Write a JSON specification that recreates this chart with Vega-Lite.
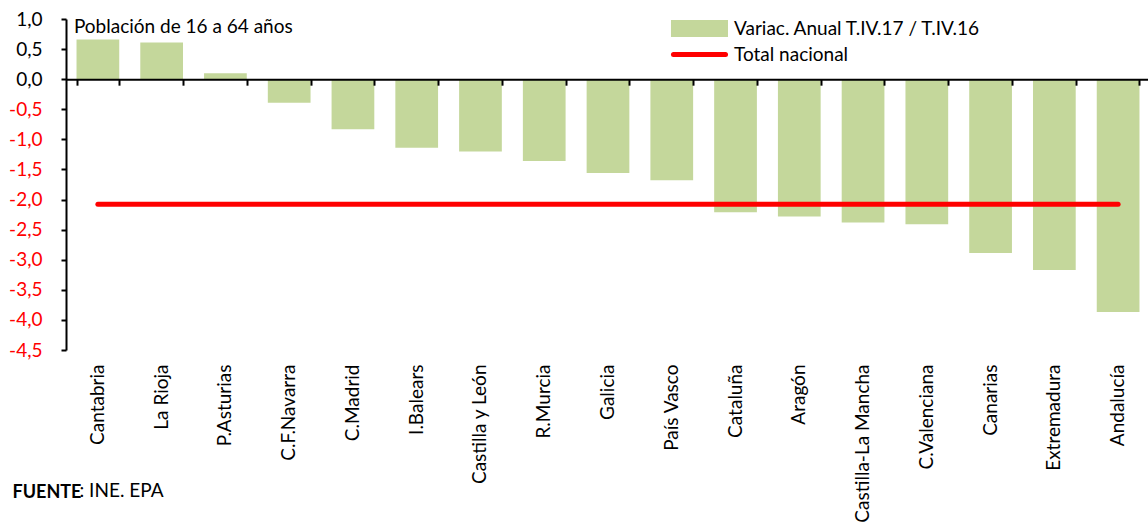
{
  "$schema": "https://vega.github.io/schema/vega-lite/v6.json",
  "width": 1084,
  "height": 331,
  "autosize": {"type": "none"},
  "padding": {"left": 66, "top": 19, "right": 0, "bottom": 177},
  "config": {
    "view": {"stroke": null},
    "font": "Lato",
    "locale": {"number": {"decimal": ",", "thousands": ".", "grouping": [3], "currency": ["", " €"], "minus": "-"}}
  },
  "data": {"values": [
    {"region": "Cantabria", "value": 0.66, "total": -2.08},
    {"region": "La Rioja", "value": 0.61, "total": -2.08},
    {"region": "P.Asturias", "value": 0.10, "total": -2.08},
    {"region": "C.F.Navarra", "value": -0.39, "total": -2.08},
    {"region": "C.Madrid", "value": -0.83, "total": -2.08},
    {"region": "I.Balears", "value": -1.14, "total": -2.08},
    {"region": "Castilla y León", "value": -1.20, "total": -2.08},
    {"region": "R.Murcia", "value": -1.36, "total": -2.08},
    {"region": "Galicia", "value": -1.56, "total": -2.08},
    {"region": "País Vasco", "value": -1.68, "total": -2.08},
    {"region": "Cataluña", "value": -2.21, "total": -2.08},
    {"region": "Aragón", "value": -2.28, "total": -2.08},
    {"region": "Castilla-La Mancha", "value": -2.38, "total": -2.08},
    {"region": "C.Valenciana", "value": -2.41, "total": -2.08},
    {"region": "Canarias", "value": -2.89, "total": -2.08},
    {"region": "Extremadura", "value": -3.17, "total": -2.08},
    {"region": "Andalucía", "value": -3.87, "total": -2.08}
  ]},
  "layer": [
    {
      "mark": {"type": "bar"},
      "encoding": {
        "x": {
          "field": "region", "type": "nominal", "sort": null,
          "scale": {"paddingInner": 0.33, "paddingOuter": 0.165},
          "axis": {
            "orient": "bottom", "domain": false, "ticks": false,
            "labelAngle": -90, "labelAlign": "right", "labelBaseline": "middle",
            "labelPadding": 14, "labelFontSize": 19, "labelColor": "black", "labelFont": "Lato", "labelLimit": 0,
            "title": "FUENTE", "titleX": -54, "titleY": 147, "titleAlign": "left", "titleBaseline": "alphabetic",
            "titleAngle": 0, "titleFontSize": 18, "titleFontWeight": "bold", "titleColor": "black", "titleFont": "Lato"
          }
        },
        "y": {
          "field": "value", "type": "quantitative",
          "scale": {"domain": [-4.5, 1.0], "nice": false, "zero": false},
          "axis": {
            "orient": "left", "title": null, "grid": false,
            "values": [-4.5, -4, -3.5, -3, -2.5, -2, -1.5, -1, -0.5, 0, 0.5, 1],
            "tickCount": 30,
            "format": ".1f", "labelOverlap": false, "labelFlush": false, "labelBound": false,
            "domainColor": "black", "domainWidth": 2,
            "tickColor": "black", "tickSize": 5, "tickWidth": 2,
            "labelPadding": 19, "labelFontSize": 19, "labelFont": "Lato",
            "labelColor": {"condition": {"test": "datum.value < 0", "value": "#ff0000"}, "value": "black"}
          }
        },
        "color": {
          "datum": "Variac. Anual T.IV.17 / T.IV.16",
          "scale": {"domain": ["Variac. Anual T.IV.17 / T.IV.16", "Total nacional"], "range": ["#c4d79b", "#ff0000"]},
          "legend": {
            "orient": "none", "legendX": 644, "legendY": 0, "title": null,
            "symbolSize": 144, "labelFontSize": 19, "labelColor": "black", "labelFont": "Lato", "labelLimit": 0,
            "labelOffset": 5, "rowPadding": -6,
            "encode": {"symbols": {"update": {
              "shape": {"signal": "datum.value === 'Total nacional' ? 'M-7.67,0H1' : 'M-7.67,-1H1V1H-7.67Z'"},
              "fill": {"signal": "datum.value === 'Total nacional' ? 'transparent' : '#c4d79b'"},
              "stroke": {"signal": "datum.value === 'Total nacional' ? '#ff0000' : 'transparent'"},
              "strokeWidth": {"value": 5},
              "strokeCap": {"value": "round"},
              "opacity": {"value": 1}
            }}}
          }
        }
      }
    },
    {
      "mark": {"type": "line", "strokeWidth": 5, "strokeCap": "round"},
      "encoding": {
        "x": {
          "field": "region", "type": "nominal", "sort": null,
          "axis": {
            "orient": "top", "offset": -60.18, "labels": false,
            "tickBand": "extent", "tickSize": -6, "tickWidth": 2, "tickColor": "black",
            "domainColor": "black", "domainWidth": 2, "zindex": 1,
            "title": ": INE. EPA", "titleX": 13, "titleY": 417.8, "titleAlign": "left", "titleBaseline": "alphabetic",
            "titleAngle": 0, "titleFontSize": 19, "titleFontWeight": "normal", "titleColor": "black", "titleFont": "Lato"
          }
        },
        "y": {"field": "total", "type": "quantitative"},
        "color": {
          "datum": "Total nacional",
          "legend": {
            "orient": "none", "legendX": 644, "legendY": 0, "title": null,
            "symbolSize": 144, "labelFontSize": 19, "labelColor": "black", "labelFont": "Lato", "labelLimit": 0,
            "labelOffset": 5, "rowPadding": -6
          }
        }
      }
    },
    {
      "data": {"values": [{"label": "Población de 16 a 64 años"}]},
      "mark": {"type": "text", "align": "left", "baseline": "alphabetic", "dx": -24, "dy": 14, "fontSize": 19, "font": "Lato", "color": "black"},
      "encoding": {
        "x": {"datum": "Cantabria", "axis": null},
        "y": {"datum": 1.0},
        "text": {"field": "label"}
      }
    }
  ],
  "resolve": {"axis": {"x": "independent"}}
}
